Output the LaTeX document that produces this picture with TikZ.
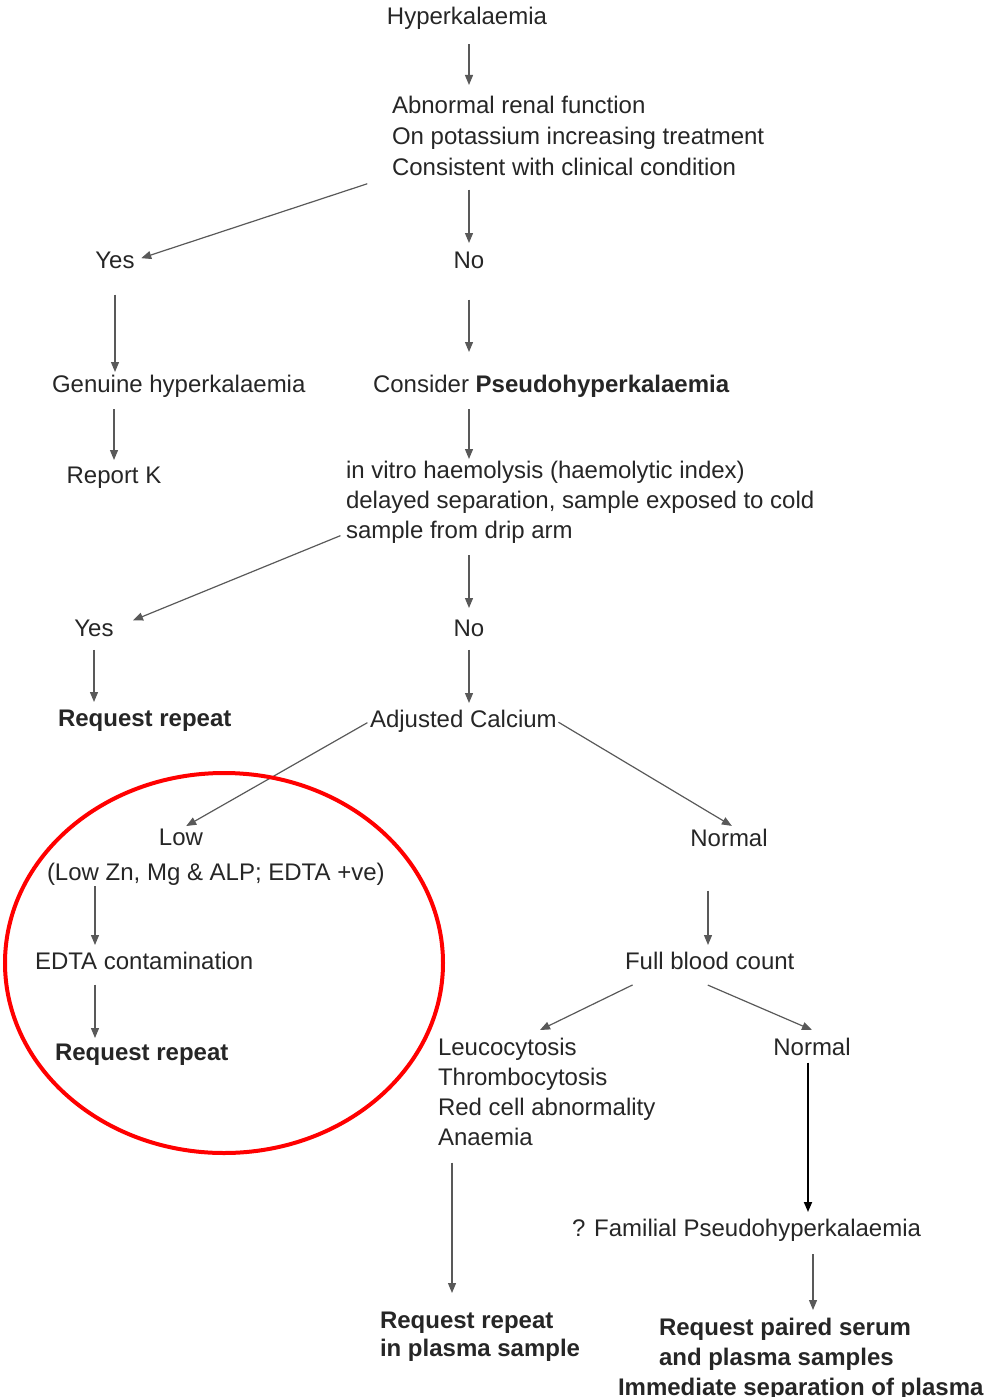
\documentclass[tikz,border=0pt]{standalone}
\usepackage{fontspec}
\setmainfont{Liberation Sans}
\usetikzlibrary{arrows.meta}

\begin{document}
\begin{tikzpicture}[
  x=1pt, y=-1pt,
  txt/.style={inner sep=0pt, outer sep=0pt, text=black!85, align=left,
              font=\fontsize{24}{31}\selectfont},
  boldtxt/.style={txt, font=\fontsize{24}{30}\selectfont\bfseries},
  arr/.style={-{Triangle[length=10pt,width=8pt]}, line width=1.2pt, draw=black!65},
  darkarr/.style={arr, draw=black, line width=1.8pt},
  ring/.style={draw=red, line width=4pt}
]
\useasboundingbox (0,0) rectangle (999,1397);

\node[txt, anchor=north] (hyper) at (467,7) {Hyperkalaemia};
\node[txt, anchor=north west] (renal) at (392,96) {Abnormal renal function\\On potassium increasing treatment\\Consistent with clinical condition};
\node[txt, anchor=north] (yesA) at (115,252) {Yes};
\node[txt, anchor=north] (noA) at (469,252) {No};
\node[txt, anchor=north west] (genuine) at (52,375) {Genuine hyperkalaemia};
\node[txt, anchor=north west] (pseudo) at (373,375) {Consider \textbf{Pseudohyperkalaemia}};
\node[txt, anchor=north] (reportK) at (114,467) {Report K};
\node[txt, anchor=north west, font=\fontsize{24}{30}\selectfont] (vitro) at (346,461) {in vitro haemolysis (haemolytic index)\\delayed separation, sample exposed to cold\\sample from drip arm};
\node[txt, anchor=north] (yesB) at (94,620) {Yes};
\node[txt, anchor=north] (noB) at (469,620) {No};
\node[boldtxt, anchor=north west] (repeatA) at (58,710) {Request repeat};
\node[txt, anchor=north west] (calcium) at (370,710) {Adjusted Calcium};
\node[txt, anchor=north] (low) at (181,829) {Low};
\node[txt, anchor=north west] (lowinfo) at (47,863) {(Low Zn, Mg \& ALP; EDTA +ve)};
\node[txt, anchor=north] (normalA) at (729,829) {Normal};
\node[txt, anchor=north west] (edta) at (35,952) {EDTA contamination};
\node[boldtxt, anchor=north west] (repeatB) at (55,1044) {Request repeat};
\node[txt, anchor=north west] (fbc) at (625,952) {Full blood count};
\node[txt, anchor=north west, font=\fontsize{24}{30}\selectfont] (leuco) at (438,1038) {Leucocytosis\\Thrombocytosis\\Red cell abnormality\\Anaemia};
\node[txt, anchor=north] (normalB) at (812,1038) {Normal};
\node[boldtxt, anchor=north west, font=\fontsize{24}{28}\selectfont\bfseries] (repeatC) at (380,1312) {Request repeat\\in plasma sample};
\node[txt, anchor=north west] (familial) at (572,1219) {? Familial Pseudohyperkalaemia};
\node[boldtxt, anchor=north west] (paired) at (659,1318) {Request paired serum\\and plasma samples\\\hspace*{-41pt}Immediate separation of plasma};

\draw[arr, shorten <=15pt, shorten >=11pt] ([xshift=2pt]hyper.south) -- ([xshift=2pt]hyper.south |- renal.north);
\draw[arr, shorten <=26pt, shorten >=7pt] (renal.south west) -- (yesA.east);
\draw[arr, shorten <=14pt, shorten >=9pt] (noA |- renal.south) -- (noA.north);
\draw[arr, shorten <=26pt, shorten >=3pt] (yesA.south) -- (yesA.south |- genuine.north);
\draw[arr, shorten <=31pt, shorten >=23pt] (noA.south) -- (noA.south |- pseudo.north);
\draw[arr, shorten <=12pt, shorten >=7pt] (reportK.north |- genuine.south) -- (reportK.north);
\draw[arr, shorten <=12pt, shorten >=2pt] (noA |- pseudo.south) -- (noA |- vitro.north);
\draw[arr, shorten <=6pt, shorten >=21pt] ([yshift=10pt]vitro.south west) -- (yesB.east);
\draw[arr, shorten <=12pt, shorten >=12pt] (noB |- vitro.south) -- (noB.north);
\draw[arr, shorten <=13pt, shorten >=8pt] (yesB.south) -- (yesB.south |- repeatA.north);
\draw[arr, shorten <=13pt, shorten >=7pt] (noB.south) -- (noB.south |- calcium.north);
\draw[arr, shorten <=3pt, shorten >=6pt] (calcium.west) -- (low.north);
\draw[arr, shorten <=2pt, shorten >=6pt] (calcium.east) -- ([xshift=8pt]normalA.north);
\draw[arr, shorten <=1pt, shorten >=7pt] ([xshift=48pt]lowinfo.south west) -- ([xshift=60pt]edta.north west);
\draw[arr, shorten <=15pt, shorten >=6pt] ([xshift=60pt]edta.south west) -- ([xshift=40pt]repeatB.north west);
\draw[arr, shorten <=44pt, shorten >=7pt] ([xshift=-21pt]normalA.south) -- ([xshift=83pt]fbc.north west);
\draw[arr, shorten <=35pt] ([xshift=39pt]fbc.south west) -- ([xshift=102pt, yshift=8pt]leuco.north west);
\draw[arr, shorten <=39pt] ([xshift=47pt]fbc.south west) -- ([yshift=8pt]normalB.north);
\draw[arr, shorten <=17pt, shorten >=19pt] ([xshift=14pt]leuco.south west) -- ([xshift=72pt]repeatC.north west);
\draw[darkarr, shorten <=7pt, shorten >=7pt] ([xshift=-4pt]normalB.south) -- ([xshift=236pt]familial.north west);
\draw[arr, shorten <=13pt, shorten >=8pt] ([xshift=241pt]familial.south west) -- ([xshift=154pt]paired.north west);

\draw[ring] (224,963) ellipse [x radius=219pt, y radius=190pt];
\end{tikzpicture}
\end{document}
